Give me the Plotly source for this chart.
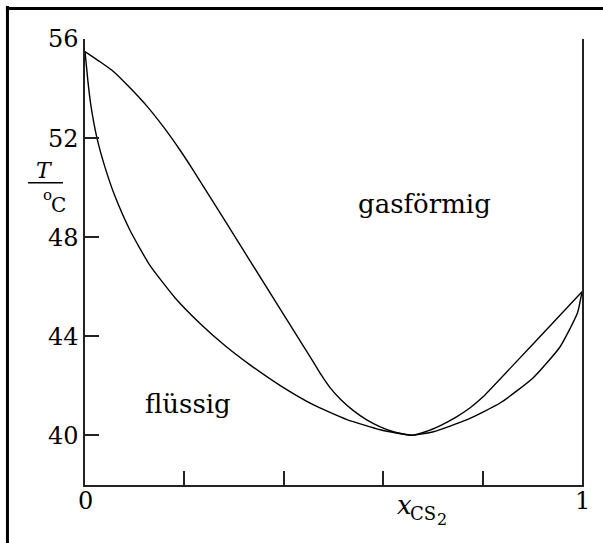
import plotly.graph_objects as go

# ---- data ----
vapor_x = [0.0, 0.028, 0.056, 0.091, 0.125, 0.159, 0.191, 0.215, 0.332, 0.459, 0.475, 0.493,
           0.515, 0.540, 0.566, 0.594, 0.624, 0.658,
           0.685, 0.715, 0.745, 0.775, 0.801, 0.870, 0.936, 1.0]
vapor_T = [55.49, 55.11, 54.71, 54.02, 53.28, 52.42, 51.52, 50.79, 47.05, 42.98, 42.45, 41.93,
           41.44, 41.00, 40.64, 40.35, 40.13, 40.01,
           40.15, 40.40, 40.72, 41.12, 41.56, 43.02, 44.43, 45.8]

liquid_x = [0.0, 0.006, 0.012, 0.024, 0.040, 0.060, 0.091, 0.131, 0.181, 0.232, 0.282, 0.332,
            0.393, 0.459, 0.527, 0.594, 0.658,
            0.701, 0.769, 0.836, 0.902, 0.956, 0.991, 1.0]
liquid_T = [55.49, 54.27, 53.30, 52.01, 50.84, 49.67, 48.26, 46.85, 45.56, 44.51, 43.62, 42.85,
            42.01, 41.24, 40.64, 40.23, 40.01,
            40.15, 40.64, 41.32, 42.33, 43.58, 44.95, 45.8]

y_ticks = [40, 44, 48, 52, 56]
x_ticks = [0, 0.2, 0.4, 0.6, 0.8, 1]
x_ticklabels = ["0", "1"]
x_ticklabel_pos = [0, 1]

region_labels = ["gasförmig", "flüssig"]
region_x = [0.683, 0.207]
region_T = [49.35, 41.25]

# ---- layout geometry (pixels) ----
W, H = 603, 543
L, R, T, B = 85, 21.3, 39, 57.6
PW, PH = W - L - R, H - T - B


def px(x):
    return (x - L) / PW


def py(y):
    return (H - B - y) / PH


FONT = "DejaVu Serif"

fig = go.Figure()
for xs, ts in ((vapor_x, vapor_T), (liquid_x, liquid_T)):
    fig.add_trace(go.Scatter(x=xs, y=ts, mode="lines",
                             line=dict(color="black", width=1.4, shape="spline", smoothing=0.5),
                             hoverinfo="skip", showlegend=False))

annotations = []
for txt, xx, tt in zip(region_labels, region_x, region_T):
    annotations.append(dict(x=xx, y=tt, xref="x", yref="y", text=txt, showarrow=False,
                            font=dict(family=FONT, size=26, color="black"),
                            xanchor="center", yanchor="middle"))

for txt, xx in zip(x_ticklabels, x_ticklabel_pos):
    annotations.append(dict(x=xx, y=py(501), xref="x", yref="paper", text=txt, showarrow=False,
                            font=dict(family=FONT, size=24, color="black"),
                            xanchor="center", yanchor="middle"))

# y-axis label T / oC
annotations += [
    dict(x=px(44.5), y=py(170.5), xref="paper", yref="paper", text="<i>T</i>", showarrow=False,
         font=dict(family=FONT, size=22, color="black"), xanchor="center", yanchor="middle"),
    dict(x=px(48), y=py(195), xref="paper", yref="paper", text="o", showarrow=False,
         font=dict(family=FONT, size=15, color="black"), xanchor="center", yanchor="middle"),
    dict(x=px(59), y=py(205), xref="paper", yref="paper", text="C", showarrow=False,
         font=dict(family=FONT, size=20, color="black"), xanchor="center", yanchor="middle"),
    # x-axis label x_CS2
    dict(x=px(404), y=py(505), xref="paper", yref="paper", text="<i>x</i>", showarrow=False,
         font=dict(family=FONT, size=26, color="black"), xanchor="center", yanchor="middle"),
    dict(x=px(423), y=py(514), xref="paper", yref="paper", text="CS", showarrow=False,
         font=dict(family=FONT, size=18, color="black"), xanchor="center", yanchor="middle"),
    dict(x=px(442), y=py(520), xref="paper", yref="paper", text="2", showarrow=False,
         font=dict(family=FONT, size=16, color="black"), xanchor="center", yanchor="middle"),
]

shapes = [
    # fraction bar
    dict(type="line", xref="paper", yref="paper", x0=px(28), x1=px(63), y0=py(183), y1=py(183),
         line=dict(color="black", width=1.5)),
    # outer frame (left and top)
    dict(type="line", xref="paper", yref="paper", x0=px(7.5), x1=px(7.5), y0=py(6), y1=py(545),
         line=dict(color="black", width=3)),
    dict(type="line", xref="paper", yref="paper", x0=px(6), x1=px(605), y0=py(8.5), y1=py(8.5),
         line=dict(color="black", width=3)),
]

axis_common = dict(showline=True, linecolor="#222", linewidth=1.5, ticks="inside", ticklen=14,
                   tickwidth=1.5, tickcolor="#222", showgrid=False, zeroline=False,
                   tickfont=dict(family=FONT, size=24, color="black"))

fig.update_layout(
    width=W, height=H,
    margin=dict(l=L, r=R, t=T, b=B, pad=0),
    paper_bgcolor="white", plot_bgcolor="white",
    xaxis=dict(range=[0, 1], tickvals=x_ticks, showticklabels=False, mirror=False, **axis_common),
    yaxis=dict(range=[38, 56], tickvals=y_ticks, mirror=True, **axis_common),
    annotations=annotations,
    shapes=shapes,
)

fig.write_html("out.html", config={"displayModeBar": False},
               post_script="document.body.style.margin='0';")
